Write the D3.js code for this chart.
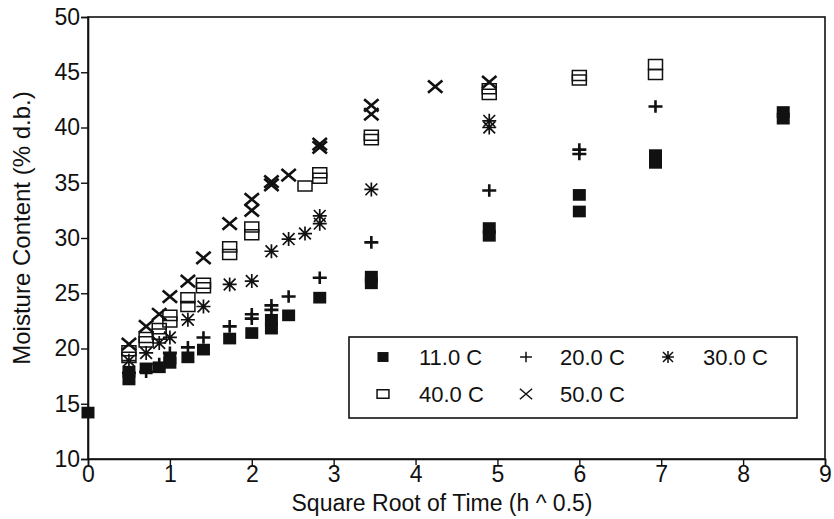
<!DOCTYPE html>
<html>
<head>
<meta charset="utf-8">
<script src="https://cdn.jsdelivr.net/npm/d3@7"></script>
<style>
  html, body { margin: 0; padding: 0; background: #fff; }
  svg text { font-family: "Liberation Sans", Arial, Helvetica, sans-serif; fill: #111; }
</style>
</head>
<body>
<svg id="chart" width="834" height="519"></svg>
<script>
// ---- data ----
const xTicks = [0, 1, 2, 3, 4, 5, 6, 7, 8, 9];
const yTicks = [10, 15, 20, 25, 30, 35, 40, 45, 50];

const x11 = [0, 0.5, 0.5, 0.71, 0.87, 1, 1, 1.22, 1.41, 1.73, 2, 2.24, 2.24, 2.45, 2.83, 3.46, 3.46, 4.9, 4.9, 6, 6, 6.93, 6.93, 8.49, 8.49];
const y11 = [14.2, 17.2, 17.9, 18.2, 18.3, 18.7, 19.1, 19.2, 19.9, 20.9, 21.4, 21.8, 22.6, 23.0, 24.6, 25.9, 26.5, 30.2, 30.9, 32.4, 33.9, 36.8, 37.5, 40.8, 41.4];

const x20 = [0.5, 0.71, 0.87, 1, 1.22, 1.41, 1.73, 2, 2, 2.24, 2.24, 2.45, 2.83, 3.46, 4.9, 6, 6, 6.93];
const y20 = [17.8, 17.9, 18.6, 19.6, 20.1, 21.0, 22.0, 22.7, 23.1, 23.5, 23.9, 24.7, 26.4, 29.6, 34.3, 37.6, 38.0, 41.9];

const x30 = [0.5, 0.71, 0.87, 1, 1.22, 1.41, 1.73, 2, 2.24, 2.45, 2.65, 2.83, 2.83, 3.46, 4.9, 4.9];
const y30 = [18.9, 19.6, 20.5, 21.0, 22.6, 23.8, 25.8, 26.1, 28.8, 29.9, 30.4, 31.3, 32.0, 34.4, 40.0, 40.6];

const x40 = [0.5, 0.5, 0.71, 0.71, 0.87, 0.87, 1, 1, 1.22, 1.22, 1.41, 1.41, 1.73, 1.73, 2, 2, 2.65, 2.83, 2.83, 3.46, 3.46, 4.9, 4.9, 6, 6, 6.93, 6.93];
const y40 = [19.2, 19.8, 20.6, 21.0, 21.3, 21.8, 22.4, 23.0, 23.8, 24.6, 25.5, 25.9, 28.5, 29.2, 30.3, 31.0, 34.7, 35.4, 35.9, 38.9, 39.3, 43.0, 43.5, 44.3, 44.7, 44.8, 45.7];

const x50 = [0.5, 0.71, 0.87, 1, 1.22, 1.41, 1.73, 2, 2, 2.24, 2.24, 2.45, 2.83, 2.83, 3.46, 3.46, 4.24, 4.9];
const y50 = [20.4, 22.0, 23.1, 24.7, 26.1, 28.2, 31.3, 32.5, 33.5, 34.8, 35.1, 35.7, 38.2, 38.5, 41.2, 42.0, 43.7, 44.1];

const seriesNames = ["11.0 C", "20.0 C", "30.0 C", "40.0 C", "50.0 C"];
const xTitle = "Square Root of Time (h ^ 0.5)";
const yTitle = "Moisture Content (% d.b.)";

// ---- layout ----
const svg = d3.select("#chart");
const L = 88, R = 825, T = 17, B = 459;
const xs = d3.scaleLinear().domain([0, 9]).range([L, R]);
const ys = d3.scaleLinear().domain([10, 50]).range([B, T]);

// marker path builders (relative to a centre point)
const shapes = {
  square: s => `M${-s*0.5},${-s*0.45}h${s}v${s*0.9}h${-s}Z`,
  plus: s => `M${-s*0.5},0H${s*0.5}M0,${-s*0.45}V${s*0.45}`,
  star: s => { const a = s*0.42; return `M${-a},${-a}L${a},${a}M${-a},${a}L${a},${-a}M0,${-s*0.5}V${s*0.5}M${-s*0.5},0H${s*0.5}`; },
  box: s => `M${-s*0.5},${-s*0.36}h${s}v${s*0.72}h${-s}Z`,
  cross: s => { const a = s*0.48; return `M${-a},${-a*0.85}L${a},${a*0.85}M${-a},${a*0.85}L${a},${-a*0.85}`; }
};
const styles = [
  {shape: "square", size: 13, fill: "#111", stroke: "none", sw: 0},
  {shape: "plus", size: 14, fill: "none", stroke: "#111", sw: 2.6},
  {shape: "star", size: 14, fill: "none", stroke: "#111", sw: 1.7},
  {shape: "box", size: 14, fill: "none", stroke: "#111", sw: 1.5},
  {shape: "cross", size: 15, fill: "none", stroke: "#111", sw: 2.6}
];
const seriesData = [[x11, y11], [x20, y20], [x30, y30], [x40, y40], [x50, y50]];

// frame
svg.append("rect").attr("x", L).attr("y", T).attr("width", R - L).attr("height", B - T)
  .attr("fill", "none").attr("stroke", "#111").attr("stroke-width", 1.6);

// axes
const xAxis = svg.append("g").attr("transform", `translate(0,${B})`)
  .call(d3.axisBottom(xs).tickValues(xTicks).tickSize(6).tickPadding(1).tickFormat(d3.format("d")));
const yAxis = svg.append("g").attr("transform", `translate(${L},0)`)
  .call(d3.axisLeft(ys).tickValues(yTicks).tickSize(7).tickPadding(1).tickFormat(d3.format("d")));
[xAxis, yAxis].forEach(g => {
  g.select(".domain").attr("stroke", "#111").attr("stroke-width", 1.6);
  g.selectAll(".tick line").attr("stroke", "#111").attr("stroke-width", 1.4);
  g.selectAll(".tick text").attr("font-size", 23).attr("fill", "#111")
    .style("font-family", '"Liberation Sans", Arial, sans-serif');
});

// titles
svg.append("text").attr("x", 442).attr("y", 511).attr("text-anchor", "middle")
  .attr("font-size", 23).text(xTitle);
svg.append("text").attr("transform", "translate(30,228) rotate(-90)").attr("text-anchor", "middle")
  .attr("font-size", 24).text(yTitle);

// points
seriesData.forEach(([xv, yv], i) => {
  const st = styles[i];
  svg.append("g").selectAll("path").data(xv.map((d, j) => [d, yv[j]])).join("path")
    .attr("transform", d => `translate(${xs(d[0])},${ys(d[1])})`)
    .attr("d", shapes[st.shape](st.size))
    .attr("fill", st.fill).attr("stroke", st.stroke).attr("stroke-width", st.sw);
});

// legend
const lg = svg.append("g");
lg.append("rect").attr("x", 349).attr("y", 337).attr("width", 448).attr("height", 81)
  .attr("fill", "#fff").attr("stroke", "#111").attr("stroke-width", 1.6);
const legPos = [[383, 357, 419], [526, 357, 560], [668, 357, 703], [383, 394, 419], [526, 394, 560]];
seriesNames.forEach((name, i) => {
  const st = styles[i];
  const [mx, my, tx] = legPos[i];
  lg.append("path").attr("transform", `translate(${mx},${my})`)
    .attr("d", shapes[st.shape](st.size * 0.85))
    .attr("fill", st.fill).attr("stroke", st.stroke)
    .attr("stroke-width", st.shape === "square" ? 0 : Math.min(st.sw, 1.5));
  lg.append("text").attr("x", tx).attr("y", my).attr("dy", "0.36em")
    .attr("font-size", 22).text(name);
});
</script>
</body>
</html>
